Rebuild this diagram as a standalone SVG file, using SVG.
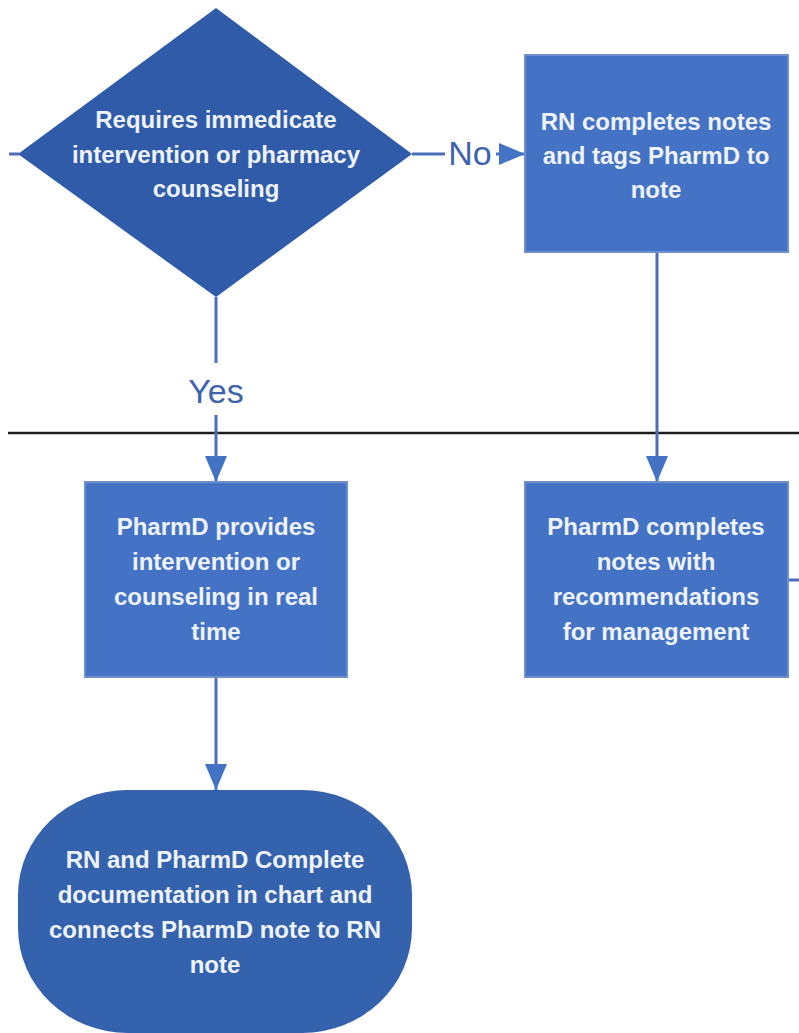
<svg xmlns="http://www.w3.org/2000/svg" width="799" height="1033" viewBox="0 0 799 1033">
  <defs>
    <marker id="arrow" markerUnits="userSpaceOnUse" markerWidth="26" markerHeight="26" viewBox="0 0 26 26" refX="26" refY="13" orient="auto">
      <path d="M0,2 L26,13 L0,24 Z" fill="#4472C4"/>
    </marker>
    <style>
      .box { fill: #4472C4; stroke: #7090CC; stroke-width: 2; }
      .decision { fill: #2F5BA8; }
      .terminal { fill: #3562AC; }
      .label { font-family: "Liberation Sans", Arial, sans-serif; font-weight: bold; font-size: 24px; fill: #EEF3FB; text-anchor: middle; }
      .edge { stroke: #4A6FB8; stroke-width: 3; fill: none; }
      .edge-label { font-family: "Liberation Sans", Arial, sans-serif; font-size: 34px; fill: #3F63AD; text-anchor: middle; }
    </style>
  </defs>
  <rect width="799" height="1033" fill="#FFFFFF"/>

  <!-- lane divider -->
  <line x1="8" y1="433" x2="799" y2="433" stroke="#1E1E1E" stroke-width="2.5"/>

  <g id="connectors">
    <!-- incoming stub on the left -->
    <line class="edge" x1="9" y1="154" x2="19" y2="154" stroke-width="4"/>
    <!-- decision -> No -> RN notes -->
    <line class="edge" x1="412" y1="154" x2="445" y2="154"/>
    <line class="edge" x1="496" y1="154" x2="525" y2="154" marker-end="url(#arrow)"/>
    <text class="edge-label" x="470" y="165">No</text>
    <!-- decision -> Yes -> PharmD provides -->
    <line class="edge" x1="216" y1="297" x2="216" y2="363"/>
    <line class="edge" x1="216" y1="415" x2="216" y2="482" marker-end="url(#arrow)"/>
    <text class="edge-label" x="216" y="403">Yes</text>
    <!-- RN notes -> PharmD completes -->
    <line class="edge" x1="657" y1="252" x2="657" y2="482" marker-end="url(#arrow)"/>
    <!-- PharmD provides -> documentation -->
    <line class="edge" x1="216" y1="677" x2="216" y2="790" marker-end="url(#arrow)"/>
    <!-- PharmD completes -> off to the right -->
    <line class="edge" x1="788" y1="580" x2="799" y2="580"/>
  </g>

  <g id="decision">
    <path class="decision" d="M216,8 L412,154 L216,297 L18,154 Z"/>
    <text class="label" x="216" y="128">Requires immedicate</text>
    <text class="label" x="216" y="163">intervention or pharmacy</text>
    <text class="label" x="216" y="197">counseling</text>
  </g>

  <g id="rn-notes">
    <rect class="box" x="525" y="55" width="263" height="197"/>
    <text class="label" x="656" y="130">RN completes notes</text>
    <text class="label" x="656" y="164">and tags PharmD to</text>
    <text class="label" x="656" y="198">note</text>
  </g>

  <g id="pharmd-realtime">
    <rect class="box" x="85" y="482" width="262" height="195"/>
    <text class="label" x="216" y="535">PharmD provides</text>
    <text class="label" x="216" y="570">intervention or</text>
    <text class="label" x="216" y="605">counseling in real</text>
    <text class="label" x="216" y="640">time</text>
  </g>

  <g id="pharmd-notes">
    <rect class="box" x="525" y="482" width="263" height="195"/>
    <text class="label" x="656" y="535">PharmD completes</text>
    <text class="label" x="656" y="570">notes with</text>
    <text class="label" x="656" y="605">recommendations</text>
    <text class="label" x="656" y="640">for management</text>
  </g>

  <g id="documentation">
    <rect class="terminal" x="18" y="790" width="394" height="243" rx="110" ry="105"/>
    <text class="label" x="215" y="868">RN and PharmD Complete</text>
    <text class="label" x="215" y="903">documentation in chart and</text>
    <text class="label" x="215" y="938">connects PharmD note to RN</text>
    <text class="label" x="215" y="973">note</text>
  </g>
</svg>
